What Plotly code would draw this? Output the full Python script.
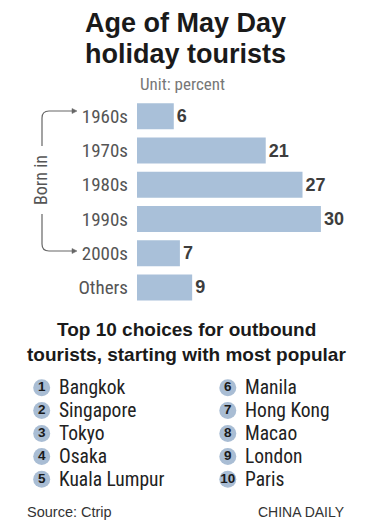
import plotly.graph_objects as go

# ---------------- data ----------------
age_groups = ["1960s", "1970s", "1980s", "1990s", "2000s", "Others"]
age_share = [6, 21, 27, 30, 7, 9]

destinations = ["Bangkok", "Singapore", "Tokyo", "Osaka", "Kuala Lumpur",
                "Manila", "Hong Kong", "Macao", "London", "Paris"]
ranks = [1, 2, 3, 4, 5, 6, 7, 8, 9, 10]

# ---------------- layout helpers ----------------
# The page body has an 8px margin; work in page pixels and convert.
OFF = 8
W, H = 378 - OFF, 526 - OFF
def px(x):
    return (x - OFF) / W
def py(y):
    return 1 - (y - OFF) / H

NARROW = "Liberation Sans Narrow, Roboto Condensed, Roboto, sans-serif"
BOLD = "Liberation Sans, Arial, sans-serif"
REG = "Liberation Sans, Arial, sans-serif"
BAR_COLOR = "#a9c0d9"

fig = go.Figure()

# Bar chart
fig.add_trace(go.Bar(
    x=age_share, y=age_groups, orientation="h",
    marker=dict(color=BAR_COLOR, line=dict(width=0)),
    text=[str(v) for v in age_share], textposition="outside",
    textfont=dict(family=BOLD, size=18, color="#3d3d3d", weight="bold"),
    cliponaxis=False, hoverinfo="skip", showlegend=False,
))

# Ranked list: circles with numbers
col = [(r - 1) // 5 for r in ranks]
row = [(r - 1) % 5 for r in ranks]
fig.add_trace(go.Scatter(
    x=col, y=row, mode="markers+text",
    marker=dict(size=17, color="#a9bdd4", line=dict(width=0)),
    text=[str(r) for r in ranks], textposition="middle center",
    textfont=dict(family=BOLD, size=13.5, color="#1a1a1a", weight="bold"),
    xaxis="x2", yaxis="y2", hoverinfo="skip", showlegend=False,
))

annotations = []
for c, r, name in zip(col, row, destinations):
    annotations.append(dict(
        x=c, y=r, xref="x2", yref="y2", text=name, showarrow=False,
        xanchor="left", yanchor="middle", xshift=15,
        font=dict(family=NARROW, size=19.5, color="#222222"),
    ))

# Titles and texts
annotations += [
    dict(x=px(185), y=py(23), xref="paper", yref="paper", text="Age of May Day",
         showarrow=False, xanchor="center", yanchor="middle",
         font=dict(family=BOLD, size=27, color="#1a1a1a", weight=900)),
    dict(x=px(185), y=py(54), xref="paper", yref="paper", text="holiday tourists",
         showarrow=False, xanchor="center", yanchor="middle",
         font=dict(family=BOLD, size=27, color="#1a1a1a", weight=900)),
    dict(x=px(182), y=py(84), xref="paper", yref="paper", text="Unit: percent",
         showarrow=False, xanchor="center", yanchor="middle",
         font=dict(family=NARROW, size=17, color="#777777")),
    dict(x=px(40), y=py(180), xref="paper", yref="paper", text="Born in",
         showarrow=False, xanchor="center", yanchor="middle", textangle=-90,
         font=dict(family=NARROW, size=18, color="#555555")),
    dict(x=px(186), y=py(329), xref="paper", yref="paper",
         text="Top 10 choices for outbound",
         showarrow=False, xanchor="center", yanchor="middle",
         font=dict(family=BOLD, size=19, color="#1a1a1a", weight="bold")),
    dict(x=px(186), y=py(354), xref="paper", yref="paper",
         text="tourists, starting with most popular",
         showarrow=False, xanchor="center", yanchor="middle",
         font=dict(family=BOLD, size=19, color="#1a1a1a", weight="bold")),
    dict(x=px(25), y=py(512), xref="paper", yref="paper", text="Source: Ctrip",
         showarrow=False, xanchor="left", yanchor="middle",
         font=dict(family=REG, size=14.5, color="#333333")),
    dict(x=px(347), y=py(512), xref="paper", yref="paper", text="CHINA DAILY",
         showarrow=False, xanchor="right", yanchor="middle",
         font=dict(family=REG, size=14, color="#333333")),
]

# Bracket arrows
top = (f"M {px(42)},{py(146)} L {px(42)},{py(118)} "
       f"Q {px(42)},{py(111)} {px(49)},{py(111)} L {px(73)},{py(111)}")
bot = (f"M {px(42)},{py(214)} L {px(42)},{py(244)} "
       f"Q {px(42)},{py(251)} {px(49)},{py(251)} L {px(73)},{py(251)}")
head_top = f"M {px(72)},{py(108.5)} L {px(77)},{py(111)} L {px(72)},{py(113.5)} Z"
head_bot = f"M {px(72)},{py(248.5)} L {px(77)},{py(251)} L {px(72)},{py(253.5)} Z"
shapes = [
    dict(type="path", path=top, xref="paper", yref="paper",
         line=dict(color="#666666", width=1.2)),
    dict(type="path", path=bot, xref="paper", yref="paper",
         line=dict(color="#666666", width=1.2)),
    dict(type="path", path=head_top, xref="paper", yref="paper",
         line=dict(color="#666666", width=0.5), fillcolor="#666666"),
    dict(type="path", path=head_bot, xref="paper", yref="paper",
         line=dict(color="#666666", width=0.5), fillcolor="#666666"),
]

# list axis mapping (page pixel positions of the two columns / rows)
c0, c1 = 41.7, 227.8
span = c1 - c0
x2_lo = -(c0 - OFF) / span
x2_hi = x2_lo + W / span
r0, rs = 387.7, 22.9
y2_top = -(r0 - OFF) / rs
y2_bot = y2_top + H / rs

fig.update_layout(
    width=W, height=H, margin=dict(l=0, r=0, t=0, b=0),
    paper_bgcolor="white", plot_bgcolor="rgba(0,0,0,0)",
    bargap=0.24,
    xaxis=dict(domain=[px(137), px(137 + 35 * 6.13)], range=[0, 35],
               visible=False, fixedrange=True),
    yaxis=dict(domain=[py(304.6), py(99.2)], autorange="reversed",
               showgrid=False, zeroline=False, showline=False, ticks="",
               ticklabelstandoff=8, automargin=False,
               tickfont=dict(family=NARROW, size=19, color="#555555")),
    xaxis2=dict(domain=[0, 1], range=[x2_lo, x2_hi], visible=False,
                anchor="y2", fixedrange=True),
    yaxis2=dict(domain=[0, 1], range=[y2_bot, y2_top], visible=False,
                anchor="x2", fixedrange=True),
    annotations=annotations, shapes=shapes,
)

fig.write_html("out.html")
